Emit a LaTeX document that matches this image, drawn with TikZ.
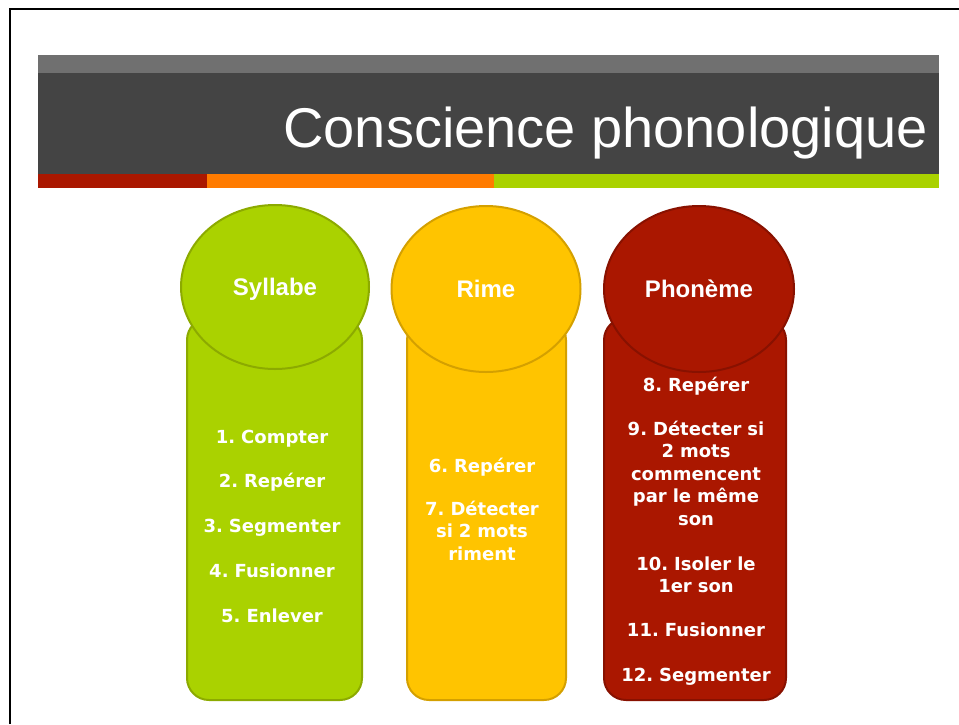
\documentclass[tikz,border=0pt]{standalone}
\usepackage{fontspec}
\usepackage{xcolor}
\usepackage{tikz}
\usetikzlibrary{shapes.geometric}
\newfontfamily\titrefont{Liberation Sans}
\newfontfamily\listefont{DejaVu Sans}
\frenchspacing
\definecolor{vertS}{HTML}{AAD200}
\definecolor{vertSbord}{HTML}{8CAA00}
\definecolor{jauneR}{HTML}{FFC400}
\definecolor{jauneRbord}{HTML}{D4A000}
\definecolor{rougeP}{HTML}{AA1700}
\definecolor{rougePbord}{HTML}{881100}
\definecolor{bandeGris}{HTML}{707070}
\definecolor{bandeFonce}{HTML}{444444}
\definecolor{bandeOrange}{HTML}{FF7B00}
\tikzset{
  colonne/.style={draw, line width=2pt, rounded corners=22pt, inner sep=0pt},
  bulle/.style={ellipse, draw, line width=2pt, inner sep=0pt, text=white, text depth=0pt,
    font=\titrefont\bfseries\fontsize{24}{28}\selectfont},
  item/.style={text=white, align=center, text width=175pt, anchor=base, inner sep=0pt,
    font=\listefont\bfseries\fontsize{18}{22.5}\selectfont}
}
\begin{document}
\begin{tikzpicture}[x=1pt,y=-1pt]
        \useasboundingbox (0,0) rectangle (959,724);
        %CADRE
        \draw[line width=2pt] (9.5,724) -- (9.5,8.5) -- (959,8.5);
        %BANDEAU
        \fill[bandeGris] (38,55) rectangle (939,73);
        \fill[bandeFonce] (38,73) rectangle (939,174);
        \fill[rougeP] (38,174) rectangle (207,188);
        \fill[bandeOrange] (207,174) rectangle (494,188);
        \fill[vertS] (494,174) rectangle (939,188);
        \node[anchor=base east, inner sep=0pt, text=white,
          font=\titrefont\fontsize{56}{60}\selectfont] (titre) at (928,147) {Conscience phonologique};
        %COLONNES
        \node[colonne, fill=vertS, draw=vertSbord, minimum width=175pt, minimum height=382pt] (colSyl) at (274.5,509) {};
        \node[colonne, fill=jauneR, draw=jauneRbord, minimum width=159pt, minimum height=382pt] (colRime) at (486.5,509) {};
        \node[colonne, fill=rougeP, draw=rougePbord, minimum width=182pt, minimum height=382pt] (colPho) at (695,509) {};
        %BULLES
        \node[bulle, fill=vertS, draw=vertSbord, minimum width=188pt, minimum height=164pt] (bulSyl) at (275,287) {Syllabe};
        \node[bulle, fill=jauneR, draw=jauneRbord, minimum width=189pt, minimum height=166pt] (bulRime) at (486,289) {Rime};
        \node[bulle, fill=rougeP, draw=rougePbord, minimum width=190pt, minimum height=166pt] (bulPho) at (699,289) {Phonème};
        %SYLLABE
        \foreach \n/\txt in {1/Compter, 2/Repérer, 3/Segmenter, 4/Fusionner, 5/Enlever}
          \node[item] (syl\n) at (272,{443+44.75*(\n-1)}) {\n. \txt};
        %RIME
        \node[item] (rime6) at (482,472) {6. Repérer};
        \node[item] (rime7) at (482,515) {7. Détecter\\si 2 mots\\riment};
        %PHONEME
        \node[item] (pho8) at (696,391) {8. Repérer};
        \node[item] (pho9) at (696,435) {9. Détecter si\\2 mots\\commencent\\par le même\\son};
        \node[item] (pho10) at (696,570) {10. Isoler le\\1er son};
        \node[item] (pho11) at (696,636) {11. Fusionner};
        \node[item] (pho12) at (696,681) {12. Segmenter};
    \end{tikzpicture}
\end{document}
